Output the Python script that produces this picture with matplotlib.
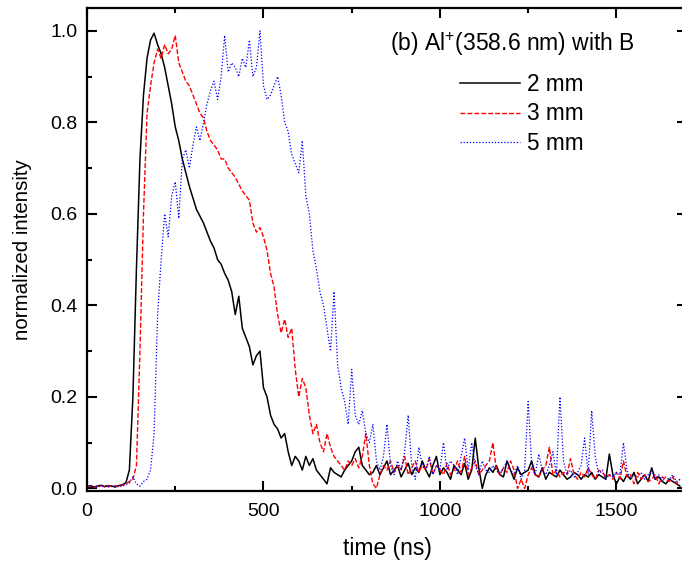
import numpy as np
import matplotlib
matplotlib.use("Agg")
import matplotlib.pyplot as plt

plt.rcParams['font.family'] = ['Liberation Sans', 'DejaVu Sans']
plt.rcParams['mathtext.fontset'] = 'custom'
plt.rcParams['mathtext.rm'] = 'Liberation Sans'

# time axis sampled every 10 ns (0 .. 1680 ns)
time_ns = np.arange(0, 1681, 10)

# 2 mm
int_2mm = [
    0.004, 0.006, 0.003, 0.005, 0.007, 0.004, 0.006, 0.005, 0.003, 0.006,
    0.008, 0.012, 0.04, 0.20, 0.48, 0.72, 0.86, 0.94, 0.98, 0.995,
    0.97, 0.95, 0.92, 0.88, 0.84, 0.79, 0.76, 0.72, 0.69, 0.66,
    0.635, 0.61, 0.595, 0.58, 0.56, 0.54, 0.525, 0.50, 0.49, 0.47,
    0.455, 0.43, 0.38, 0.42, 0.35, 0.33, 0.31, 0.27, 0.29, 0.30,
    0.22, 0.20, 0.16, 0.14, 0.13, 0.11, 0.12, 0.08, 0.05, 0.07,
    0.06, 0.04, 0.07, 0.05, 0.065, 0.04, 0.03, 0.02, 0.01, 0.045,
    0.035, 0.03, 0.025, 0.04, 0.05, 0.06, 0.08, 0.09, 0.05, 0.04,
    0.03, 0.035, 0.05, 0.03, 0.045, 0.06, 0.03, 0.04, 0.05, 0.025,
    0.04, 0.055, 0.03, 0.045, 0.035, 0.06, 0.04, 0.025, 0.05, 0.07,
    0.03, 0.045, 0.035, 0.02, 0.05, 0.04, 0.03, 0.055, 0.02, 0.04,
    0.11, 0.045, 0.0, 0.03, 0.045, 0.035, 0.05, 0.03, 0.025, 0.06,
    0.04, 0.02, 0.045, 0.03, 0.035, 0.04, 0.06, 0.03, 0.025, 0.045,
    0.02, 0.035, 0.03, 0.025, 0.04, 0.03, 0.02, 0.025, 0.035, 0.03,
    0.02, 0.03, 0.025, 0.035, 0.02, 0.03, 0.025, 0.02, 0.075, 0.03,
    0.01, 0.025, 0.015, 0.03, 0.02, 0.035, 0.01, 0.02, 0.03, 0.015,
    0.045, 0.02, 0.025, 0.015, 0.01, 0.02, 0.015, 0.01, 0.005,
]

# 3 mm
int_3mm = [
    0.003, 0.005, 0.002, 0.004, 0.006, 0.003, 0.005, 0.004, 0.006, 0.003,
    0.007, 0.01, 0.015, 0.02, 0.05, 0.30, 0.60, 0.82, 0.88, 0.93,
    0.96, 0.94, 0.97, 0.95, 0.96, 0.99, 0.93, 0.91, 0.89, 0.88,
    0.86, 0.84, 0.82, 0.81, 0.78, 0.76, 0.75, 0.74, 0.72, 0.72,
    0.70, 0.69, 0.68, 0.665, 0.65, 0.64, 0.63, 0.58, 0.56, 0.57,
    0.55, 0.52, 0.47, 0.44, 0.38, 0.34, 0.37, 0.33, 0.35, 0.26,
    0.20, 0.24, 0.22, 0.16, 0.12, 0.14, 0.10, 0.08, 0.12, 0.09,
    0.07, 0.06, 0.05, 0.04, 0.06, 0.05, 0.065, 0.045, 0.07, 0.12,
    0.05, 0.01, 0.0, 0.03, 0.05, 0.04, 0.06, 0.035, 0.05, 0.04,
    0.07, 0.03, 0.045, 0.06, 0.035, 0.05, 0.04, 0.065, 0.03, 0.05,
    0.04, 0.03, 0.055, 0.03, 0.04, 0.06, 0.035, 0.07, 0.03, 0.045,
    0.06, 0.03, 0.04, 0.05, 0.06, 0.10, 0.04, 0.03, 0.045, 0.035,
    0.06, 0.04, 0.0, 0.02, 0.0, 0.03, 0.045, 0.03, 0.025, 0.04,
    0.05, 0.09, 0.03, 0.04, 0.025, 0.035, 0.03, 0.065, 0.03, 0.02,
    0.035, 0.025, 0.045, 0.03, 0.02, 0.04, 0.035, 0.025, 0.03, 0.02,
    0.035, 0.02, 0.06, 0.025, 0.03, 0.01, 0.035, 0.02, 0.03, 0.015,
    0.02, 0.03, 0.01, 0.025, 0.02, 0.015, 0.025, 0.01, 0.02,
]

# 5 mm
int_5mm = [
    0.004, 0.006, 0.003, 0.005, 0.004, 0.006, 0.003, 0.005, 0.004, 0.006,
    0.005, 0.008, 0.012, 0.025, 0.01, 0.005, 0.015, 0.02, 0.04, 0.12,
    0.38, 0.50, 0.60, 0.55, 0.64, 0.67, 0.59, 0.72, 0.74, 0.70,
    0.75, 0.79, 0.76, 0.80, 0.84, 0.87, 0.89, 0.85, 0.90, 0.99,
    0.91, 0.93, 0.92, 0.90, 0.94, 0.92, 0.98, 0.90, 0.92, 1.0,
    0.88, 0.85, 0.86, 0.88, 0.90, 0.86, 0.80, 0.78, 0.73, 0.71,
    0.69, 0.76, 0.64, 0.60, 0.52, 0.48, 0.43, 0.40, 0.35, 0.30,
    0.43, 0.27, 0.22, 0.19, 0.14, 0.26, 0.16, 0.14, 0.17, 0.12,
    0.10, 0.14, 0.06, 0.04, 0.07, 0.14, 0.05, 0.03, 0.06, 0.04,
    0.08, 0.16, 0.05, 0.02, 0.09, 0.05, 0.04, 0.07, 0.03, 0.05,
    0.04, 0.10, 0.04, 0.06, 0.05, 0.03, 0.07, 0.11, 0.04, 0.10,
    0.05, 0.03, 0.06, 0.04, 0.035, 0.05, 0.04, 0.03, 0.045, 0.06,
    0.04, 0.03, 0.05, 0.02, 0.04, 0.19, 0.05, 0.03, 0.075, 0.04,
    0.03, 0.05, 0.08, 0.03, 0.20, 0.06, 0.03, 0.04, 0.025, 0.035,
    0.05, 0.11, 0.03, 0.17, 0.07, 0.03, 0.04, 0.02, 0.03, 0.025,
    0.035, 0.03, 0.10, 0.04, 0.02, 0.03, 0.025, 0.035, 0.02, 0.03,
    0.04, 0.02, 0.03, 0.015, 0.025, 0.02, 0.03, 0.015, 0.02,
]

labels = ['2 mm', '3 mm', '5 mm']

fig = plt.figure(figsize=(6.82, 5.67), dpi=100)
ax = fig.add_axes([0.1276, 0.1346, 0.8797, 0.8513])

ax.plot(time_ns, int_2mm, color='black', lw=1.1, ls='-', label=labels[0])
ax.plot(time_ns, int_3mm, color='red', lw=1.0, ls=(0, (3.5, 1.5)), label=labels[1])
ax.plot(time_ns, int_5mm, color='blue', lw=0.9, ls=(0, (1, 1.5)), label=labels[2])

ax.set_xlim(0, 1700)
ax.set_ylim(-0.005, 1.05)
ax.set_xticks([0, 500, 1000, 1500])
ax.set_xticks([250, 750, 1250], minor=True)
ax.set_yticks([0.0, 0.2, 0.4, 0.6, 0.8, 1.0])
ax.set_yticks([0.1, 0.3, 0.5, 0.7, 0.9], minor=True)
ax.set_yticklabels(['0.0', '0.2', '0.4', '0.6', '0.8', '1.0'])
ax.tick_params(which='both', direction='in', top=True, right=True, labelsize=14, width=1.5)
ax.tick_params(which='major', length=7.5)
ax.tick_params(axis='x', which='major', pad=9)
ax.tick_params(axis='y', which='major', pad=7)
ax.tick_params(which='minor', length=3.8)
for sp in ax.spines.values():
    sp.set_linewidth(1.6)

ax.set_xlabel('time (ns)', fontsize=16.5, labelpad=12)
ax.set_ylabel('normalized intensity', fontsize=14.8, labelpad=13)

ax.text(0.505, 0.925, r'(b) Al$^{+}$(358.6 nm) with B', transform=ax.transAxes,
        fontsize=16.5, va='center', ha='left')
ax.legend(loc='upper left', bbox_to_anchor=(0.6217, 0.866), frameon=False,
          fontsize=16.3, handlelength=2.65, handletextpad=0.3, labelspacing=0.3,
          borderpad=0, borderaxespad=0)

fig.savefig('out.png', dpi=100)
